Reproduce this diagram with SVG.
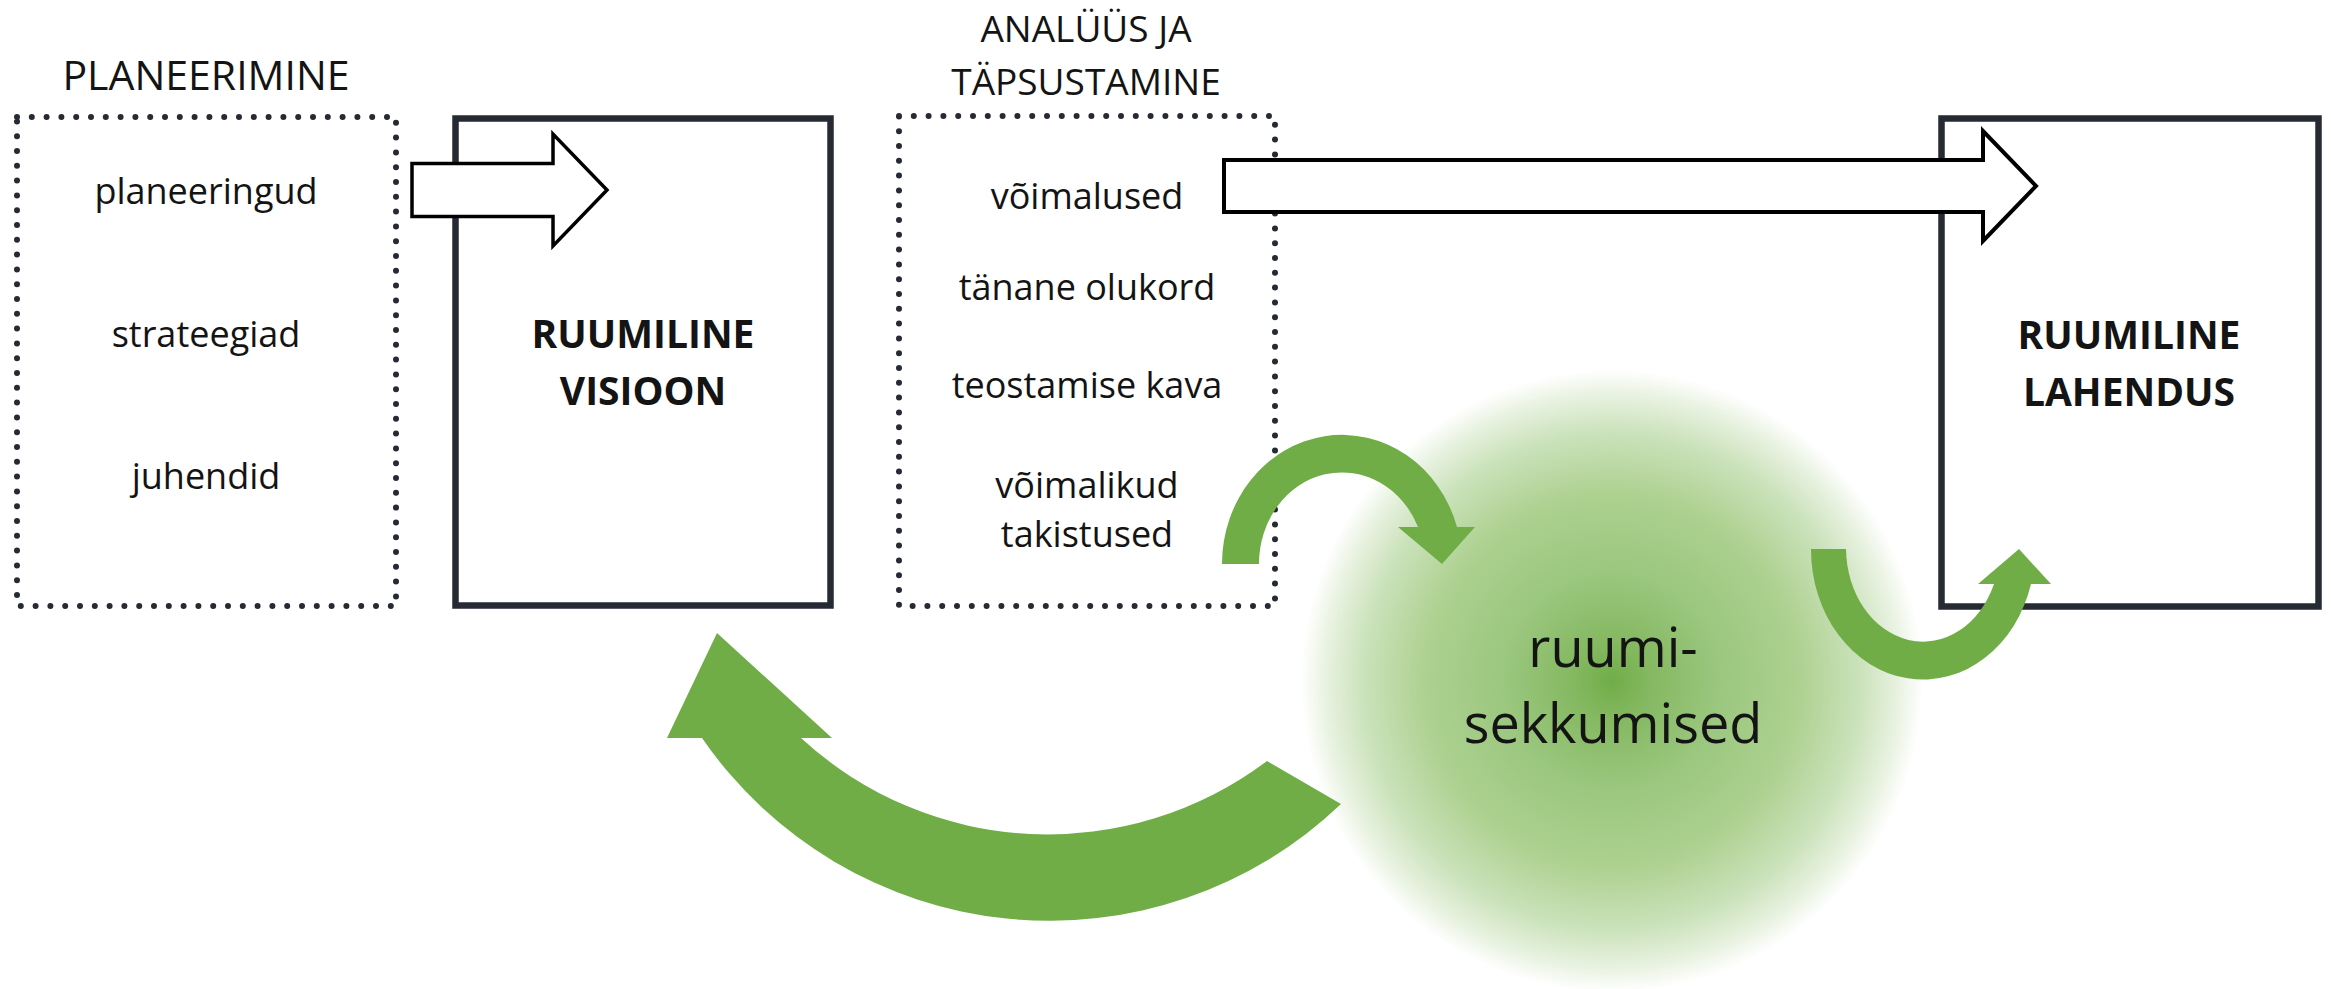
<svg xmlns="http://www.w3.org/2000/svg" width="2331" height="989" viewBox="0 0 2331 989">
<style>
.t{font-family:"Open Sans","Liberation Sans",sans-serif;fill:#141414;text-anchor:middle}
.item{font-size:36px}
.head{font-size:41px}
.head2{font-size:37px}
.bold{font-size:39px;font-weight:700}
.big{font-size:54px}
.dot{fill:none;stroke:#262a33;stroke-width:6;stroke-linecap:round;stroke-dasharray:0 14.8}
.box{fill:none;stroke:#262a33;stroke-width:6.5}
.hollow{fill:#fff;stroke:#000;stroke-linejoin:miter}
.green{fill:#70ad47}
</style>
<defs>
<radialGradient id="glow" cx="0.5" cy="0.5" r="0.5">
<stop offset="0" stop-color="#70ad47"/>
<stop offset="0.12" stop-color="#84b860"/>
<stop offset="0.35" stop-color="#9bc77f"/>
<stop offset="0.6" stop-color="#add190"/>
<stop offset="0.8" stop-color="#cbe2bb"/>
<stop offset="0.92" stop-color="#e8f2e0"/>
<stop offset="1" stop-color="#ffffff"/>
</radialGradient>
</defs>
<rect width="2331" height="989" fill="#fff"/>
<g id="glow-ruumisekkumised">
<circle cx="1612" cy="681" r="311" fill="url(#glow)"/>
</g>
<g id="planeerimine">
<rect class="dot" x="17" y="117" width="379" height="489"/>
<text class="t head" x="206" y="90">PLANEERIMINE</text>
<text class="t item" x="206" y="204">planeeringud</text>
<text class="t item" x="206" y="347">strateegiad</text>
<text class="t item" x="206" y="489">juhendid</text>
</g>
<g id="visioon">
<rect class="box" x="455.5" y="118.5" width="375" height="487"/>
<text class="t bold" x="643" y="348">RUUMILINE</text>
<text class="t bold" x="643" y="405">VISIOON</text>
</g>
<g id="analyys">
<rect class="dot" x="899" y="116" width="376" height="490"/>
<text class="t head2" x="1086" y="42">ANALÜÜS JA</text>
<text class="t head2" x="1086" y="95">TÄPSUSTAMINE</text>
<text class="t item" x="1087" y="209">võimalused</text>
<text class="t item" x="1087" y="300">tänane olukord</text>
<text class="t item" x="1087" y="398">teostamise kava</text>
<text class="t item" x="1087" y="498">võimalikud</text>
<text class="t item" x="1087" y="547">takistused</text>
</g>
<g id="lahendus">
<rect class="box" x="1941.5" y="118.5" width="377" height="488"/>
<text class="t bold" x="2129" y="349">RUUMILINE</text>
<text class="t bold" x="2129" y="406">LAHENDUS</text>
</g>
<g id="connectors">
<path class="hollow" stroke-width="3.5" d="M412,163.5 L553,163.5 L553,134 L607,190 L553,246 L553,216.5 L412,216.5 Z"/>
<path class="hollow" stroke-width="4" d="M1224,160 L1983,160 L1983,131 L2036,186 L1983,241 L1983,212 L1224,212 Z"/>
<path class="green" d="M1222,564 A120,129 0 0 1 1457,527 L1475,527 L1442,564 L1398,527 L1418,527 A83,91.3 0 0 0 1259,564 Z"/>
<path class="green" d="M1811,549 A112,130 0 0 0 2031,584 L2051,584 L2019,549 L1978,584 L1994,584 A77,94 0 0 1 1846,549 Z"/>
<path class="green" d="M702,738 A422,422 0 0 0 1341,804 L1267,761 A364,364 0 0 1 801,738 L832,738 L717,633 L667,738 Z"/>
</g>
<g id="label-ruumisekkumised">
<text class="t big" x="1613" y="667">ruumi-</text>
<text class="t big" x="1613" y="743">sekkumised</text>
</g>
</svg>
